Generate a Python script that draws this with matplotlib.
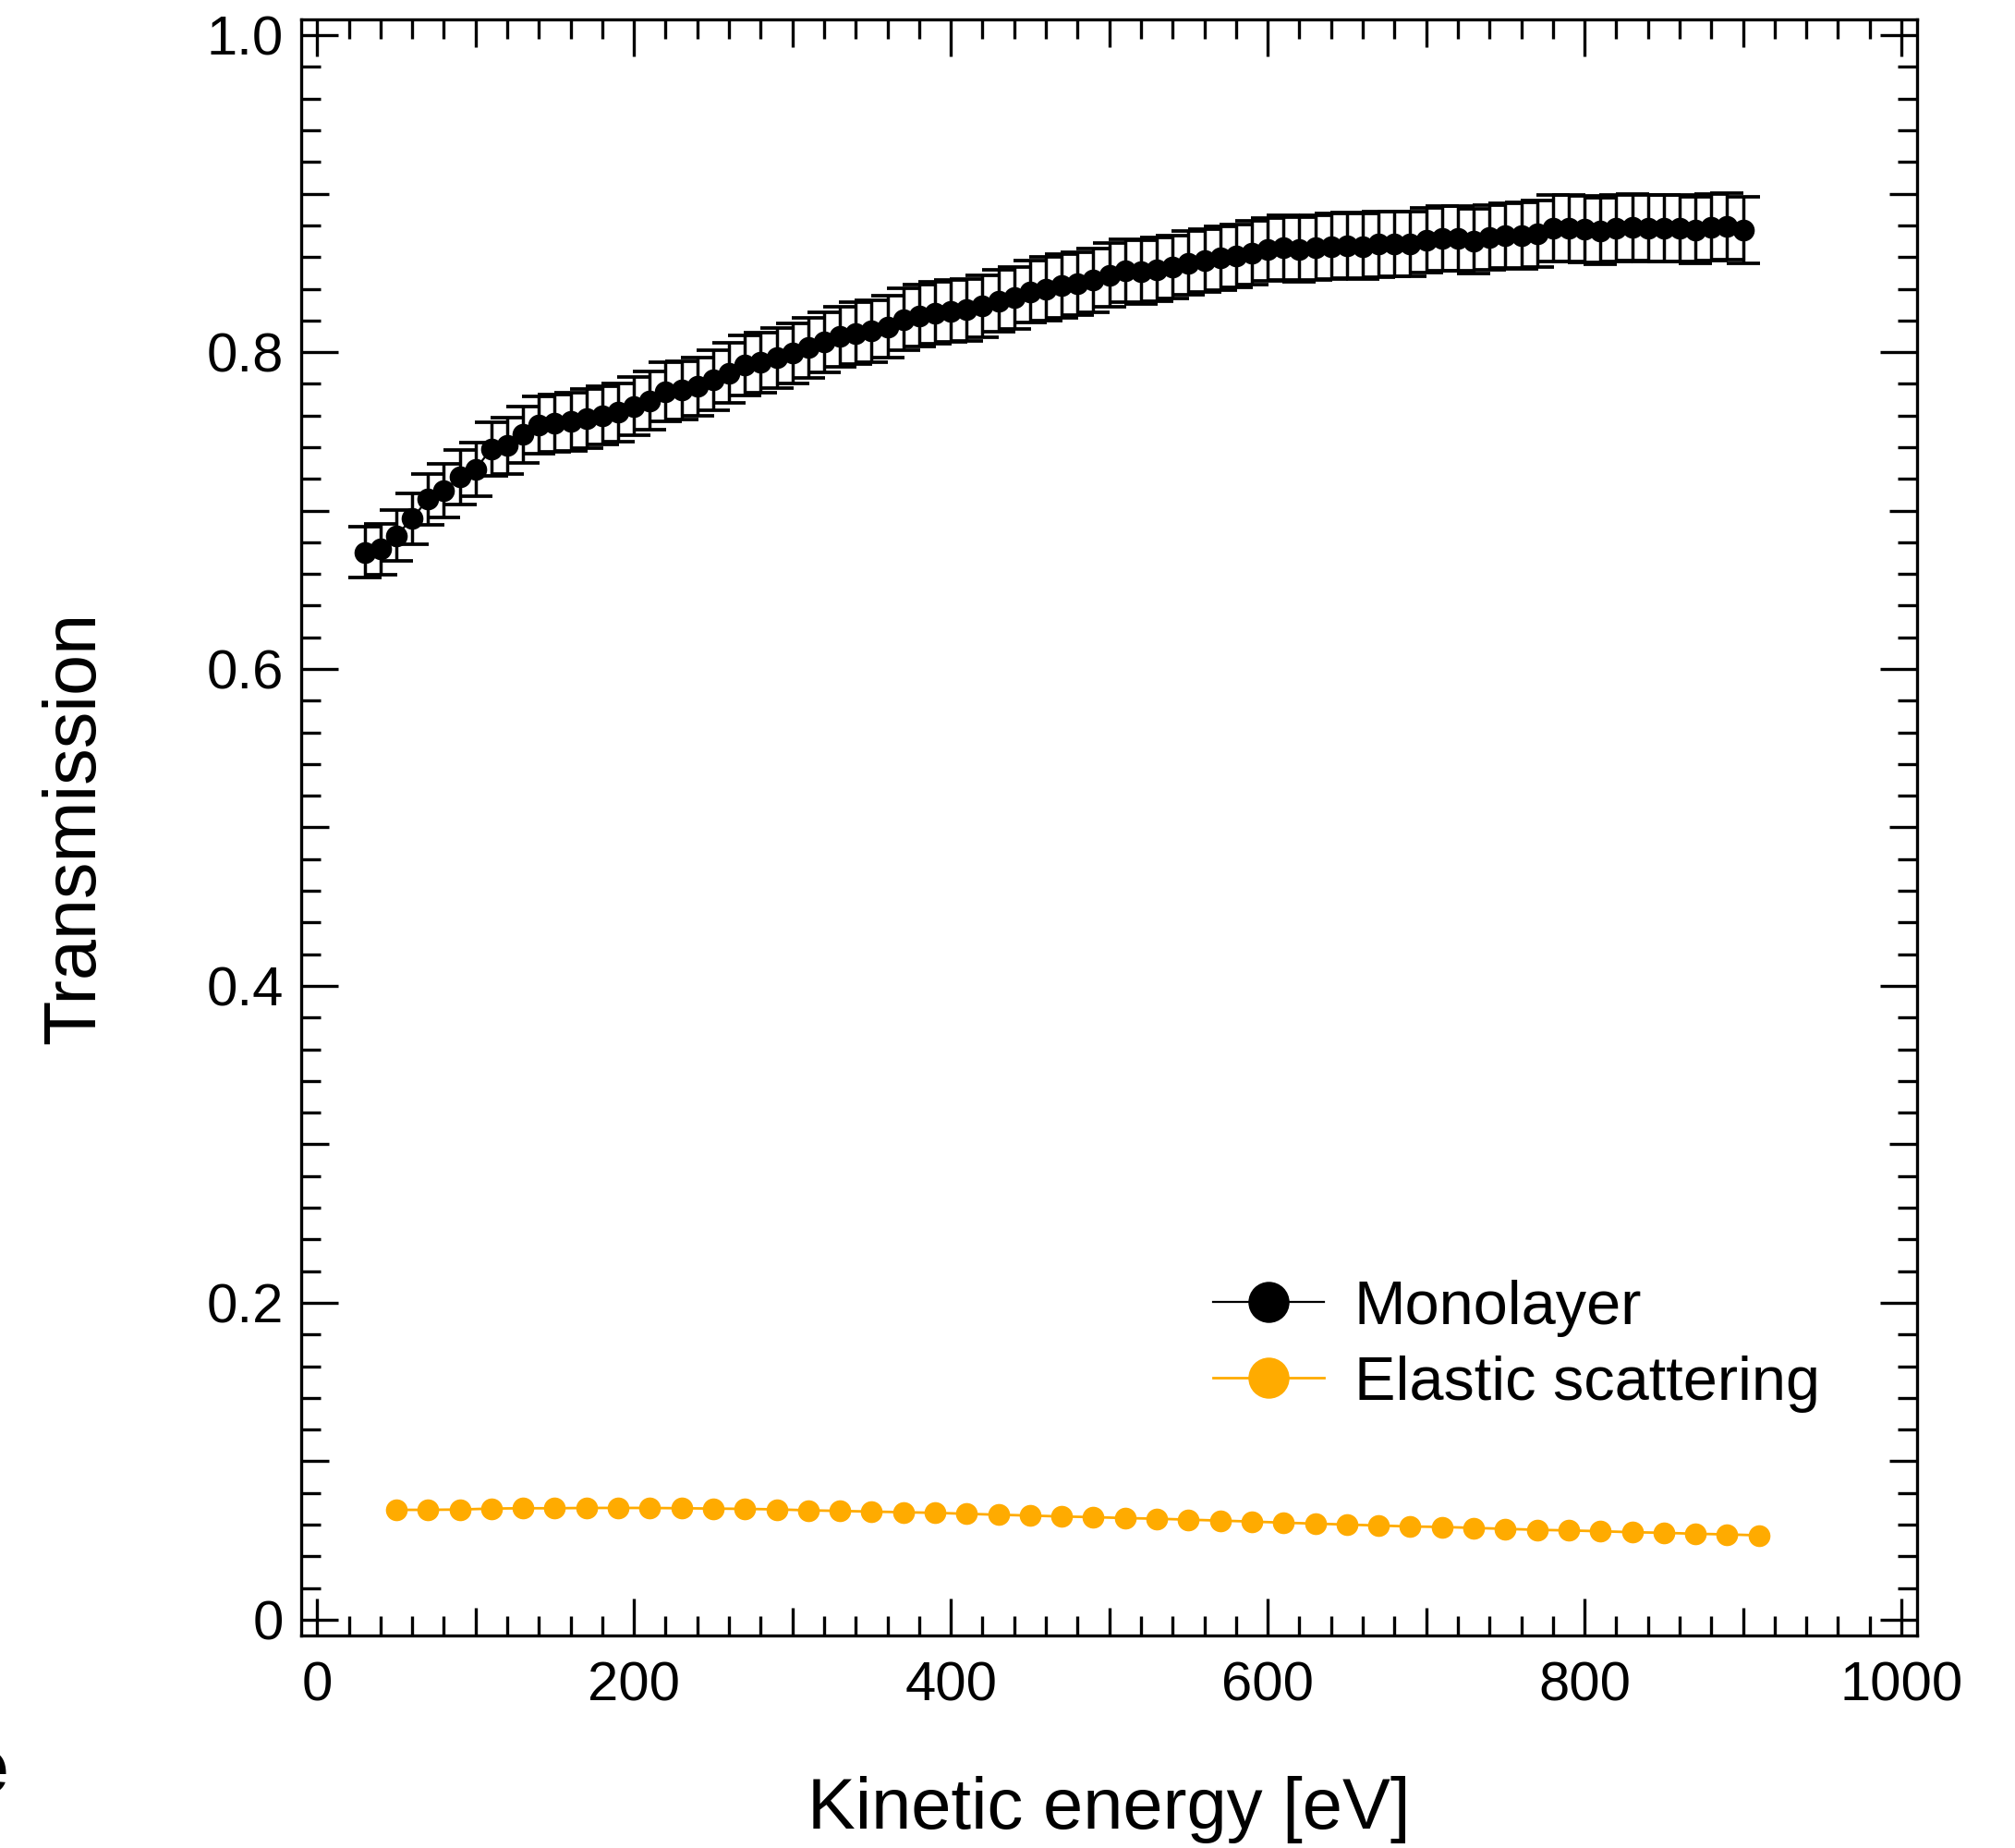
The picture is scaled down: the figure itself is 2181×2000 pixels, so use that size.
import numpy as np
import matplotlib
matplotlib.use('Agg')
import matplotlib.pyplot as plt
from matplotlib.ticker import MultipleLocator, FuncFormatter

plt.rcParams['font.family'] = ['Liberation Sans', 'DejaVu Sans']

# Monolayer transmission (with error bars)
energy_mono = list(range(30, 910, 10))
trans_mono = [0.6737, 0.6756, 0.6841, 0.6950, 0.7071, 0.7125, 0.7211, 0.7261, 0.7390, 0.7409,
              0.7479, 0.7541, 0.7553, 0.7561, 0.7580, 0.7600, 0.7619, 0.7658, 0.7693, 0.7751,
              0.7759, 0.7782, 0.7825, 0.7868, 0.7918, 0.7934, 0.7964, 0.7992, 0.8027, 0.8062,
              0.8097, 0.8120, 0.8132, 0.8159, 0.8207, 0.8229, 0.8247, 0.8258, 0.8266, 0.8291,
              0.8324, 0.8344, 0.8381, 0.8400, 0.8419, 0.8433, 0.8454, 0.8486, 0.8513, 0.8505,
              0.8521, 0.8538, 0.8563, 0.8579, 0.8594, 0.8606, 0.8626, 0.8649, 0.8658, 0.8649,
              0.8661, 0.8668, 0.8674, 0.8668, 0.8680, 0.8684, 0.8684, 0.8707, 0.8719, 0.8719,
              0.8700, 0.8723, 0.8734, 0.8738, 0.8746, 0.8781, 0.8781, 0.8777, 0.8765, 0.8781,
              0.8785, 0.8781, 0.8781, 0.8781, 0.8771, 0.8785, 0.8791, 0.8773]
err_mono = [0.016, 0.016, 0.016, 0.016, 0.016, 0.017, 0.017, 0.017, 0.017, 0.018,
            0.018, 0.018, 0.018, 0.0185, 0.0185, 0.0185, 0.0185, 0.0185, 0.0185, 0.0185,
            0.0185, 0.0185, 0.019, 0.019, 0.019, 0.019, 0.019, 0.019, 0.019, 0.019,
            0.019, 0.0195, 0.0195, 0.0195, 0.0195, 0.0195, 0.0195, 0.0195, 0.0195, 0.0195,
            0.0195, 0.0195, 0.0195, 0.020, 0.020, 0.020, 0.020, 0.020, 0.020, 0.020,
            0.020, 0.020, 0.020, 0.020, 0.020, 0.020, 0.020, 0.020, 0.0205, 0.0205,
            0.0205, 0.0205, 0.0205, 0.0205, 0.0205, 0.0205, 0.0205, 0.0205, 0.0205, 0.0205,
            0.0205, 0.0205, 0.0205, 0.021, 0.021, 0.021, 0.021, 0.021, 0.021, 0.021,
            0.021, 0.021, 0.021, 0.021, 0.021, 0.021, 0.021, 0.021]

# Elastic scattering
energy_elastic = list(range(50, 930, 20))
trans_elastic = [0.0693, 0.0693, 0.0695, 0.0701, 0.0703, 0.0703, 0.0705, 0.0705, 0.0705, 0.0703,
                 0.0701, 0.0699, 0.0696, 0.0690, 0.0686, 0.0682, 0.0678, 0.0674, 0.0668, 0.0662,
                 0.0657, 0.0651, 0.0647, 0.0641, 0.0637, 0.0631, 0.0625, 0.0619, 0.0612, 0.0606,
                 0.0600, 0.0594, 0.0588, 0.0585, 0.0579, 0.0573, 0.0567, 0.0563, 0.0558, 0.0552,
                 0.0548, 0.0542, 0.0538, 0.0532]

fig = plt.figure(figsize=(10.905, 10.0), dpi=200)
ax = fig.add_axes([0.1495, 0.115, 0.802, 0.8745])

ax.errorbar(energy_mono, trans_mono, yerr=err_mono, fmt='none', ecolor='black',
            elinewidth=1.25, capsize=6.5, capthick=1.35, zorder=2)
ax.plot(energy_mono, trans_mono, 'o-', color='black', ms=7.5, lw=0.8,
        label='Monolayer', zorder=3)
ax.plot(energy_elastic, trans_elastic, 'o-', color='#FFAB00', ms=7.5, lw=1.0,
        label='Elastic scattering', zorder=3)

ax.set_xlim(-10, 1010)
ax.set_ylim(-0.01, 1.01)

ax.xaxis.set_major_locator(MultipleLocator(100))
ax.xaxis.set_minor_locator(MultipleLocator(20))
ax.yaxis.set_major_locator(MultipleLocator(0.1))
ax.yaxis.set_minor_locator(MultipleLocator(0.02))
ax.xaxis.set_major_formatter(FuncFormatter(
    lambda v, p: str(int(round(v))) if int(round(v)) % 200 == 0 else ''))
ax.yaxis.set_major_formatter(FuncFormatter(
    lambda v, p: ('0' if round(v * 10) == 0 else f'{v:.1f}') if round(v * 10) % 2 == 0 else ''))

ax.tick_params(which='major', direction='in', length=14.4, width=1.2,
               top=True, right=True, labelsize=21.5)
ax.tick_params(which='minor', direction='in', length=7.6, width=1.2, top=True, right=True)
ax.tick_params(axis='x', which='major', pad=10)
ax.tick_params(axis='y', which='major', pad=7)

# medium ticks at the unlabeled major positions
for t, loc in zip(ax.xaxis.get_major_ticks(), ax.get_xticks()):
    if int(round(loc)) % 200 != 0:
        t.tick1line.set_markersize(10.8)
        t.tick2line.set_markersize(10.8)
for t, loc in zip(ax.yaxis.get_major_ticks(), ax.get_yticks()):
    if round(loc * 10) % 2 != 0:
        t.tick1line.set_markersize(10.8)
        t.tick2line.set_markersize(10.8)

for s in ax.spines.values():
    s.set_linewidth(1.2)

ax.set_xlabel('Kinetic energy [eV]', fontsize=28)
ax.set_ylabel('Transmission', fontsize=28.5)
ax.xaxis.set_label_coords(0.5, -0.087)
ax.yaxis.set_label_coords(-0.118, 0.5)

ax.legend(loc='lower left', bbox_to_anchor=(0.564, 0.138), frameon=False, fontsize=24,
          markerscale=2, handlelength=1.8, handletextpad=0.5, labelspacing=0.3,
          borderpad=0, borderaxespad=0)

fig.text(0.004, 0.03, 'e', ha='right', va='baseline', fontsize=30, fontweight='bold')

fig.savefig('out.png', dpi=200)
